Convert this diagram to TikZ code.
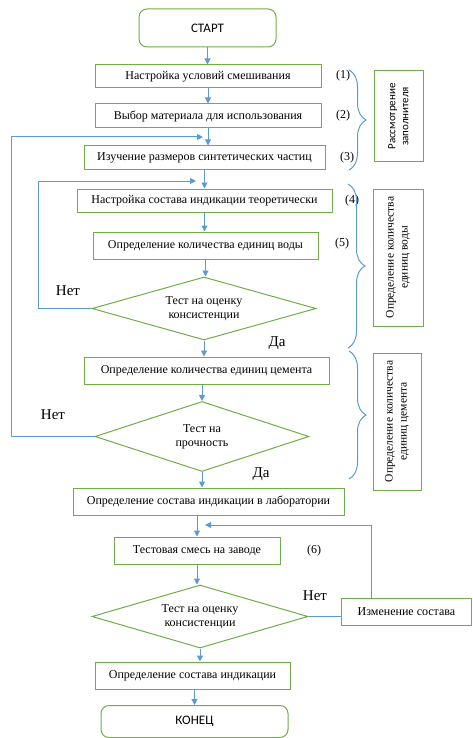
\documentclass[tikz,border=0pt]{standalone}
\usepackage{fontspec}
\setmainfont{Liberation Serif}
\newfontfamily\calib{Carlito}
\usetikzlibrary{shapes.geometric,arrows.meta,decorations.pathreplacing}
\definecolor{vert}{RGB}{112,173,71}
\definecolor{bleu}{RGB}{91,155,213}
\newcommand{\boite}[6]{\node[boite, minimum width=#4, minimum height=#5] (#1) at (#2,#3) {#6}}
\newcommand{\losange}[6]{\node[losange, minimum width=#4, minimum height=#5] (#1) at (#2,#3) {#6}}
\newcommand{\fleche}[2]{\draw[fleche] (#1.south) -- (#1.south |- #2.north)}
\newcommand{\accolade}[3]{\draw[bleu, line width=1pt, decorate,
	decoration={brace, amplitude=17pt}] (#1,#2) -- (#1,#3)}

\begin{document}
\begin{tikzpicture}[x=1pt, y=-1pt,
	boite/.style={draw=vert, line width=1pt, inner sep=2pt,
		font=\fontsize{12}{13}\selectfont},
	rond/.style={draw=vert, line width=1pt, rounded corners=8pt,
		font=\calib\fontsize{13}{15}\selectfont},
	losange/.style={diamond, draw=vert, line width=1pt, aspect=3.5, inner sep=0pt,
		align=center, font=\fontsize{12}{14}\selectfont},
	cote/.style={draw=vert, line width=1pt, rotate=90, align=center,
		font=\fontsize{11.5}{14}\selectfont},
	etiq/.style={font=\fontsize{15}{17}\selectfont},
	num/.style={font=\fontsize{12}{14}\selectfont},
	fleche/.style={bleu, line width=1pt, -{Triangle[length=6pt,width=6pt]}}]
\useasboundingbox (0,0) rectangle (472,738);
%Main column
	\node[rond, minimum width=137pt, minimum height=38pt] (debut) at (207.5,28) {СТАРТ};
	\boite{b1}{208}{76.5}{226pt}{23pt}{Настройка условий смешивания};
	\boite{b2}{208}{116}{226pt}{24pt}{Выбор материала для использования};
	\boite{b3}{204.5}{158}{241pt}{24pt}{Изучение размеров синтетических частиц};
	\boite{b4}{204.5}{200.5}{255pt}{23pt}{Настройка состава индикации теоретически};
	\boite{b5}{205.5}{245.5}{225pt}{27pt}{Определение количества единиц воды};
	\losange{d1}{204}{308.5}{224pt}{63pt}{Тест на оценку\\консистенции};
	\boite{b6}{206.5}{370.5}{245pt}{27pt}{Определение количества единиц цемента};
	\losange{d2}{202}{436.5}{214pt}{70pt}{Тест на\\прочность};
	\boite{b7}{208.5}{501.5}{271pt}{27pt}{Определение состава индикации в лаборатории};
	\boite{b8}{197}{550.5}{166pt}{27pt}{Тестовая смесь на заводе};
	\losange{d3}{200}{616.5}{216pt}{63pt}{Тест на оценку\\консистенции};
	\boite{chg}{406.5}{611.5}{130pt}{27pt}{Изменение состава};
	\boite{b9}{192.5}{675.5}{195pt}{27pt}{Определение состава индикации};
	\node[rond, minimum width=187pt, minimum height=32pt] (fin) at (194.5,721.5) {КОНЕЦ};
%Step numbers
	\node[num] (n1) at (343,76) {(1)};
	\node[num] (n2) at (343,116) {(2)};
	\node[num] (n3) at (347,158) {(3)};
	\node[num] (n4) at (352,201) {(4)};
	\node[num] (n5) at (342,244) {(5)};
	\node[num] (n6) at (314,551) {(6)};
%Side boxes
	\node[cote, minimum width=91pt, minimum height=49pt, font=\calib\fontsize{11}{13}\selectfont]
		(s1) at (398.5,116.5) {Рассмотрение\\заполнителя};
	\node[cote, minimum width=137pt, minimum height=50pt] (s2) at (398,257.5)
		{Определение количества\\единиц воды};
	\node[cote, minimum width=137pt, minimum height=48pt] (s3) at (397,421.5)
		{Определение количества\\единиц цемента};
%Braces
	\accolade{349}{70}{170};
	\accolade{348}{184}{348};
	\accolade{349}{351}{479};
%Arrows
	\fleche{debut}{b1};
	\fleche{b1}{b2};
	\fleche{b2}{b3};
	\fleche{b3}{b4};
	\fleche{b4}{b5};
	\fleche{b5}{d1};
	\fleche{d1}{b6};
	\draw[fleche] (b6.south -| d2.north) -- (d2.north);
	\fleche{d2}{b7};
	\draw[fleche] (b7.south -| b8.north) -- (b8.north);
	\fleche{b8}{d3};
	\fleche{d3}{b9};
	\draw[fleche] (b9.south -| fin.north) -- (fin.north);
%Loops
	\coordinate (g1) at (11,137);
	\coordinate (j1) at (203,137);
	\coordinate (g2) at (38,181);
	\coordinate (j2) at (196,181);
	\coordinate (g3) at (371,525);
	\coordinate (j3) at (205,525);
	\draw[fleche] (d2.west) -| (g1) -- (j1);
	\draw[fleche] (d1.west) -| (g2) -- (j2);
	\draw[fleche] (chg.north -| g3) -- (g3) -- (j3);
	\draw[bleu, line width=1pt] (d3.east) -- (d3.east -| chg.west);
%Answers
	\node[etiq] (non1) at (68,291) {Нет};
	\node[etiq] (oui1) at (277,343) {Да};
	\node[etiq] (non2) at (53,415) {Нет};
	\node[etiq] (oui2) at (261,474) {Да};
	\node[etiq] (non3) at (315,596) {Нет};
\end{tikzpicture}
\end{document}
